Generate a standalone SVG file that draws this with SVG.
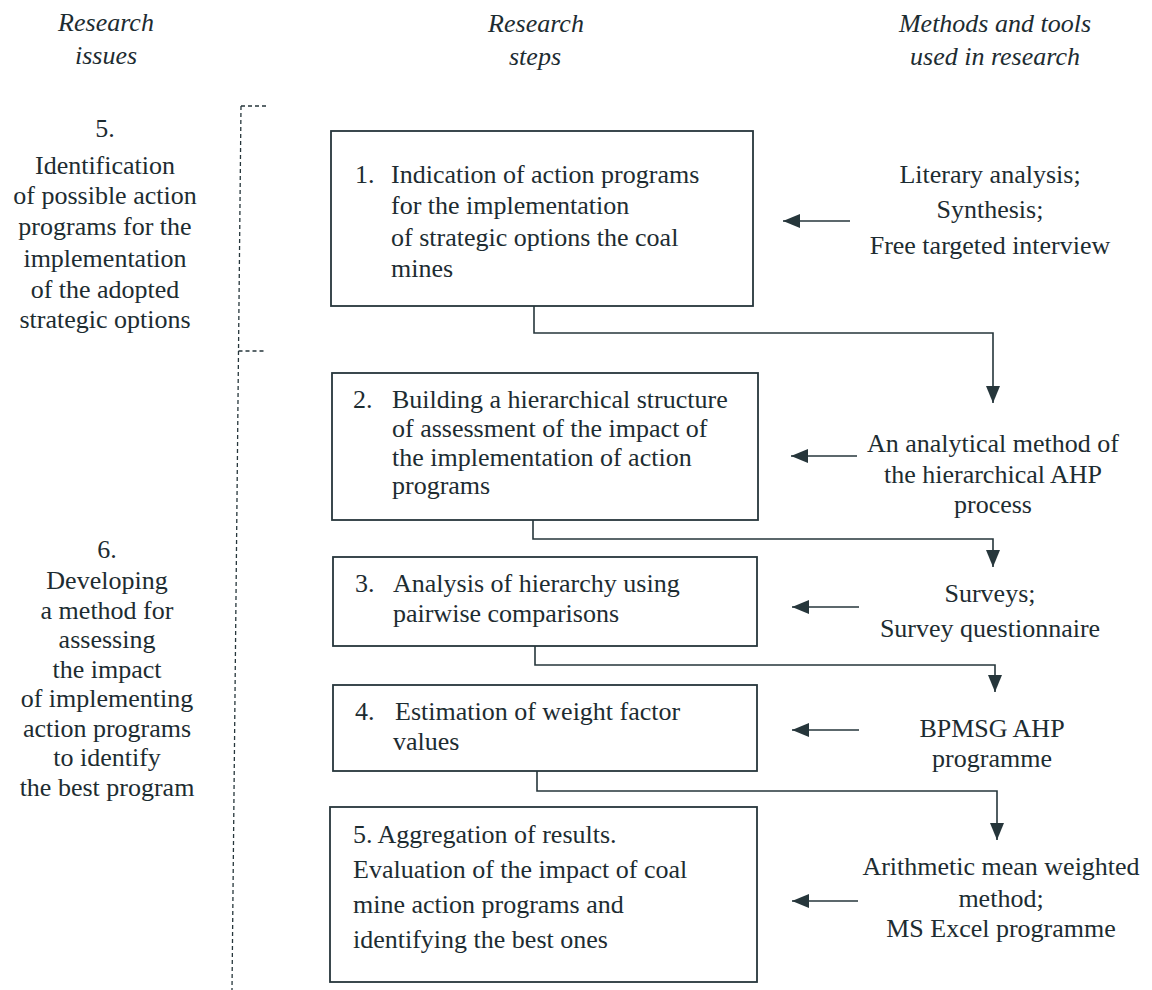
<svg xmlns="http://www.w3.org/2000/svg" width="1152" height="990" viewBox="0 0 1152 990">
<defs>
<style>
text{font-family:"Liberation Serif","Times New Roman",serif;font-size:26px;fill:#1d2c31}
.hd{font-style:italic;text-anchor:middle}
.c{text-anchor:middle}
.box{fill:#fff;stroke:#26363b;stroke-width:1.8}
.con{fill:none;stroke:#26363b;stroke-width:1.6}
.dash{fill:none;stroke:#26363b;stroke-width:1.3;stroke-dasharray:4 3}
</style>
<marker id="ah" markerUnits="userSpaceOnUse" markerWidth="18" markerHeight="16" refX="17" refY="7" orient="auto">
<path d="M0,0 L17,7 L0,14 z" fill="#26363b"/>
</marker>
</defs>
<rect width="1152" height="990" fill="#fff"/>

<g id="headers">
<text class="hd" x="106" y="31">Research</text>
<text class="hd" x="106" y="64">issues</text>
<text class="hd" x="536" y="32">Research</text>
<text class="hd" x="535" y="65">steps</text>
<text class="hd" x="995" y="32">Methods and tools</text>
<text class="hd" x="995" y="65">used in research</text>
</g>

<g id="separators">
<line class="dash" x1="241" y1="106" x2="232" y2="990"/>
<line class="dash" x1="241" y1="106" x2="266" y2="106"/>
<line class="dash" x1="238.5" y1="351" x2="266" y2="351"/>
</g>

<g id="issue5">
<text class="c" x="105" y="137">5.</text>
<text class="c" x="105" y="174">Identification</text>
<text class="c" x="105" y="204">of possible action</text>
<text class="c" x="105" y="235">programs for the</text>
<text class="c" x="105" y="267">implementation</text>
<text class="c" x="105" y="298">of the adopted</text>
<text class="c" x="105" y="328">strategic options</text>
</g>

<g id="issue6">
<text class="c" x="107" y="558">6.</text>
<text class="c" x="107" y="589">Developing</text>
<text class="c" x="107" y="619">a method for</text>
<text class="c" x="107" y="648">assessing</text>
<text class="c" x="107" y="678">the impact</text>
<text class="c" x="107" y="707">of implementing</text>
<text class="c" x="107" y="737">action programs</text>
<text class="c" x="107" y="766">to identify</text>
<text class="c" x="107" y="796">the best program</text>
</g>

<g id="step1">
<rect class="box" x="331" y="131" width="422" height="175"/>
<text x="355" y="183">1.</text>
<text x="391" y="183">Indication of action programs</text>
<text x="391" y="214">for the implementation</text>
<text x="391" y="246">of strategic options the coal</text>
<text x="391" y="277">mines</text>
</g>

<g id="step2">
<rect class="box" x="332" y="373" width="426" height="147"/>
<text x="353" y="408">2.</text>
<text x="392" y="408">Building a hierarchical structure</text>
<text x="392" y="437">of assessment of the impact of</text>
<text x="392" y="466">the implementation of action</text>
<text x="392" y="494">programs</text>
</g>

<g id="step3">
<rect class="box" x="333" y="557" width="424" height="89"/>
<text x="355" y="592">3.</text>
<text x="393" y="592">Analysis of hierarchy using</text>
<text x="393" y="622">pairwise comparisons</text>
</g>

<g id="step4">
<rect class="box" x="333" y="685" width="424" height="86"/>
<text x="355" y="720">4.</text>
<text x="395" y="720">Estimation of weight factor</text>
<text x="393" y="750">values</text>
</g>

<g id="step5">
<rect class="box" x="330" y="807" width="427" height="175"/>
<text x="353" y="843">5. Aggregation of results.</text>
<text x="353" y="878">Evaluation of the impact of coal</text>
<text x="353" y="913">mine action programs and</text>
<text x="353" y="948">identifying the best ones</text>
</g>

<g id="method1">
<text class="c" x="990" y="183">Literary analysis;</text>
<text class="c" x="990" y="218">Synthesis;</text>
<text class="c" x="990" y="254">Free targeted interview</text>
</g>

<g id="method2">
<text class="c" x="993" y="452">An analytical method of</text>
<text class="c" x="993" y="483">the hierarchical AHP</text>
<text class="c" x="993" y="513">process</text>
</g>

<g id="method3">
<text class="c" x="990" y="602">Surveys;</text>
<text class="c" x="990" y="637">Survey questionnaire</text>
</g>

<g id="method4">
<text class="c" x="992" y="737">BPMSG AHP</text>
<text class="c" x="992" y="767">programme</text>
</g>

<g id="method5">
<text class="c" x="1001" y="875">Arithmetic mean weighted</text>
<text class="c" x="1001" y="907">method;</text>
<text class="c" x="1001" y="937">MS Excel programme</text>
</g>

<g id="connectors">
<polyline class="con" points="534,306 534,333 993,333 993,403" marker-end="url(#ah)"/>
<polyline class="con" points="533,520 533,539 993,539 993,567" marker-end="url(#ah)"/>
<polyline class="con" points="535,646 535,665 995,665 995,692" marker-end="url(#ah)"/>
<polyline class="con" points="537,771 537,791 997,791 997,840" marker-end="url(#ah)"/>
<line class="con" x1="850" y1="221" x2="783" y2="221" marker-end="url(#ah)"/>
<line class="con" x1="857" y1="456" x2="791" y2="456" marker-end="url(#ah)"/>
<line class="con" x1="859" y1="607" x2="792" y2="607" marker-end="url(#ah)"/>
<line class="con" x1="859" y1="730" x2="792" y2="730" marker-end="url(#ah)"/>
<line class="con" x1="858" y1="901" x2="792" y2="901" marker-end="url(#ah)"/>
</g>
</svg>
